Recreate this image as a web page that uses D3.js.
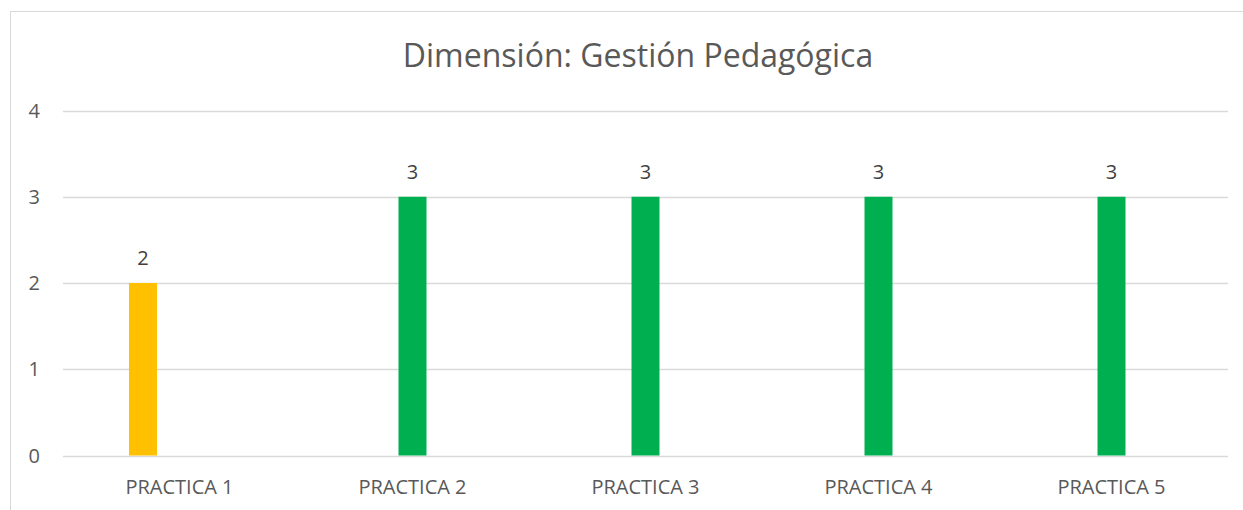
<!DOCTYPE html>
<html>
<head>
<meta charset="utf-8">
<script src="https://cdn.jsdelivr.net/npm/d3@7"></script>
<style>
  html, body { margin: 0; padding: 0; background: #fff; }
  svg { display: block; }
</style>
</head>
<body>
<div id="chart"></div>
<script>
/* Dimensión: Gestión Pedagógica — clustered column chart */

const categories = ['PRACTICA 1', 'PRACTICA 2', 'PRACTICA 3', 'PRACTICA 4', 'PRACTICA 5'];
const seriesNames = ['En proceso', 'Logrado', 'Vacío'];
const enProceso = [2, null, null, null, null];
const logrado   = [null, 3, 3, 3, 3];
const vacio     = [null, null, null, null, null];
const yTicks    = [0, 1, 2, 3, 4];

const SERIES_FILL = { 'En proceso': '#FFC000', 'Logrado': '#00B050', 'Vacío': '#4472C4' };

const W = 1243, H = 510;
const FONT = '"Open Sans", "Noto Sans", sans-serif';
const LABEL_SIZE = 20;
const plot = { left: 63, right: 1228, top: 110.5, bottom: 455.5 };

const svg = d3.select('#chart').append('svg')
  .attr('width', W).attr('height', H);

/* outer chart frame (only left/top edges fall inside the picture) */
svg.append('rect')
  .attr('x', 10.5).attr('y', 11.5)
  .attr('width', W + 20).attr('height', H + 20)
  .attr('fill', '#fff')
  .attr('stroke', '#d9d9d9').attr('stroke-width', 1);

const x0 = d3.scaleBand()
  .domain(categories)
  .range([plot.left, plot.right])
  .padding(0);

/* series slots inside each category: step ≈ 36.5px, bar ≈ 28px */
const x1 = d3.scaleBand()
  .domain(seriesNames)
  .range([-54.75, 54.75])
  .paddingInner(0.233)
  .paddingOuter(0.1165);

const y = d3.scaleLinear()
  .domain([0, 4])
  .range([plot.bottom, plot.top]);

/* gridlines */
svg.append('g')
  .selectAll('line')
  .data(yTicks)
  .join('line')
  .attr('x1', plot.left).attr('x2', plot.right)
  .attr('y1', d => Math.round(y(d)) + 0.5)
  .attr('y2', d => Math.round(y(d)) + 0.5)
  .attr('stroke', '#d9d9d9')
  .attr('stroke-width', 1.3);

/* y tick labels */
svg.append('g')
  .selectAll('text')
  .data(yTicks)
  .join('text')
  .attr('x', 40)
  .attr('y', d => y(d))
  .attr('dy', '0.35em')
  .attr('text-anchor', 'end')
  .attr('font-family', FONT)
  .attr('font-size', LABEL_SIZE)
  .attr('fill', '#595959')
  .text(d => d);

/* category labels */
svg.append('g')
  .selectAll('text')
  .data(categories)
  .join('text')
  .attr('x', d => x0(d) + x0.bandwidth() / 2)
  .attr('y', 494)
  .attr('text-anchor', 'middle')
  .attr('font-family', FONT)
  .attr('font-size', LABEL_SIZE)
  .attr('fill', '#595959')
  .text(d => d);

/* bars */
const rows = [];
categories.forEach((c, i) => {
  [[seriesNames[0], enProceso[i]], [seriesNames[1], logrado[i]], [seriesNames[2], vacio[i]]]
    .forEach(([s, v]) => { if (v != null) rows.push({ cat: c, series: s, value: v }); });
});

const barX = d => x0(d.cat) + x0.bandwidth() / 2 + x1(d.series);

svg.append('g')
  .selectAll('rect')
  .data(rows)
  .join('rect')
  .attr('x', barX)
  .attr('y', d => y(d.value))
  .attr('width', x1.bandwidth())
  .attr('height', d => y(0) - y(d.value))
  .attr('fill', d => SERIES_FILL[d.series]);

/* data labels */
svg.append('g')
  .selectAll('text')
  .data(rows)
  .join('text')
  .attr('x', d => barX(d) + x1.bandwidth() / 2)
  .attr('y', d => y(d.value) - 18)
  .attr('text-anchor', 'middle')
  .attr('font-family', FONT)
  .attr('font-size', LABEL_SIZE)
  .attr('fill', '#404040')
  .text(d => d.value);

/* title */
svg.append('text')
  .attr('x', 638)
  .attr('y', 67)
  .attr('text-anchor', 'middle')
  .attr('font-family', FONT)
  .attr('font-size', 32)
  .attr('fill', '#595959')
  .text('Dimensión: Gestión Pedagógica');
</script>
</body>
</html>
